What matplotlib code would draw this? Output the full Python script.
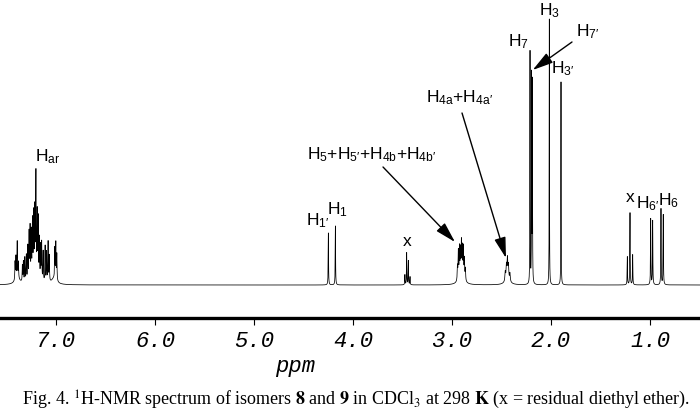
import numpy as np
import matplotlib.pyplot as plt

plt.rcParams['mathtext.fontset'] = 'custom'
plt.rcParams['mathtext.rm'] = 'Liberation Sans'
plt.rcParams['mathtext.it'] = 'Liberation Sans:italic'
plt.rcParams['mathtext.bf'] = 'Liberation Sans:bold'

# Line positions (ppm) and heights (arbitrary units)
har_ppm = [7.414, 7.405, 7.392, 7.38, 7.34, 7.33, 7.315, 7.30, 7.285, 7.272, 7.262, 7.25,
           7.238, 7.226, 7.214, 7.203, 7.19, 7.18, 7.168, 7.155, 7.145, 7.13, 7.11,
           7.095, 7.08, 7.068, 7.012, 7.002, 6.992]
har_int = [18, 22, 36, 16, 16, 20, 24, 26, 34, 46, 50, 44,
           52, 56, 60, 98, 62, 58, 40, 34, 38, 30, 36,
           30, 40, 26, 30, 36, 26]

h1_ppm = [4.249, 4.178]
h1_int = [52, 59]

ether_ch2_ppm = [3.476, 3.458, 3.441, 3.424]
ether_ch2_int = [10, 32, 24, 8]

h5_ppm = [2.945, 2.936, 2.925, 2.915, 2.905, 2.895, 2.885, 2.875, 2.865]
h5_int = [14, 28, 30, 26, 33, 28, 30, 20, 12]

h4a_ppm = [2.462, 2.45, 2.44, 2.43, 2.415]
h4a_int = [9, 14, 20, 14, 8]

h7_ppm = [2.212, 2.196, 2.188]
h7_int = [232, 206, 200]

h3_ppm = [2.017, 1.899]
h3_int = [266, 203]

ether_ch3_ppm = [1.229, 1.202, 1.175]
ether_ch3_int = [28, 72, 30]

h6_ppm = [0.993, 0.973, 0.889, 0.866]
h6_int = [66, 64, 76, 70]

# broad humps under the multiplets
hump_ppm = [7.22, 7.39, 7.02, 2.905, 2.44]
hump_int = [14, 6, 6, 8, 5]

tick_vals = [7.0, 6.0, 5.0, 4.0, 3.0, 2.0, 1.0]
tick_text = ['7.0', '6.0', '5.0', '4.0', '3.0', '2.0', '1.0']

labels = [r'H$_{\mathrm{ar}}$', r'H$_{1\prime}$', r'H$_{1}$', 'x',
          r'H$_{5}$+H$_{5\prime}$+H$_{4\mathrm{b}}$+H$_{4\mathrm{b}\prime}$',
          r'H$_{4\mathrm{a}}$+H$_{4\mathrm{a}\prime}$', r'H$_{7}$', r'H$_{3}$',
          r'H$_{7\prime}$', r'H$_{3\prime}$', 'x', r'H$_{6\prime}$', r'H$_{6}$']
label_x = [7.08, 4.36, 4.16, 3.455, 3.81, 2.92, 2.333, 2.02, 1.626, 1.879, 1.202, 1.02, 0.818]
label_y = [128, 64, 75, 44, 130, 187, 243, 274, 253, 216, 88, 81, 84]

# arrows: tail (ppm, y) -> head (ppm, y)
arrows = [((3.697, 118), (2.97, 43)),
          ((2.899, 172), (2.455, 27)),
          ((1.788, 243), (2.185, 215))]

ppm = np.linspace(0.4, 7.7, 80000)
spec = np.zeros_like(ppm)


def add_lines(shifts, heights, hw):
    global spec
    for x0, h in zip(shifts, heights):
        spec = spec + h * hw ** 2 / ((ppm - x0) ** 2 + hw ** 2)


add_lines(har_ppm, har_int, 0.0025)
add_lines(h1_ppm, h1_int, 0.002)
add_lines(ether_ch2_ppm, ether_ch2_int, 0.002)
add_lines(h5_ppm, h5_int, 0.003)
add_lines(h4a_ppm, h4a_int, 0.004)
add_lines(h7_ppm, h7_int, 0.0015)
add_lines(h3_ppm, h3_int, 0.0015)
add_lines(ether_ch3_ppm, ether_ch3_int, 0.002)
add_lines(h6_ppm, h6_int, 0.002)
add_lines(hump_ppm, hump_int, 0.03)

fig = plt.figure(figsize=(7.0, 4.19), dpi=100)
ax = fig.add_axes([0.0, 101 / 419, 1.0, 318 / 419])
ax.plot(ppm, spec, color='black', lw=0.55)

ax.set_xlim(7.566, 0.495)
ax.set_ylim(-33, 285)
for s in ['top', 'left', 'right']:
    ax.spines[s].set_visible(False)
ax.spines['bottom'].set_linewidth(2.4)
ax.set_yticks([])
ax.set_xticks(tick_vals)
ax.set_xticklabels(tick_text, family='Liberation Mono', style='italic', fontsize=16)
ax.tick_params(axis='x', direction='out', length=5, width=0.8, pad=4)

ax.text(4.586, -81, 'ppm', family='Liberation Mono', style='italic', fontsize=16,
        ha='center', va='center', clip_on=False)

for lab, lx, ly in zip(labels, label_x, label_y):
    ax.text(lx, ly, lab, family='Liberation Sans', fontsize=12.5, ha='center', va='center')

for tail, head in arrows:
    ax.annotate('', xy=head, xytext=tail,
                arrowprops=dict(arrowstyle='-|>,head_length=0.9,head_width=0.25',
                                color='black', lw=1.0, mutation_scale=14,
                                shrinkA=0, shrinkB=0))

fig.text(0.508, (419 - 400) / 419,
         r"Fig. 4. $^{1}$H-NMR spectrum of isomers $\mathbf{8}$ and $\mathbf{9}$ in CDCl$_{3}$"
         r" at 298 $\mathbf{K}$ (x = residual diethyl ether).",
         family='Liberation Serif', math_fontfamily='stix', fontsize=13,
         ha='center', va='center')

fig.savefig('out.png', dpi=100)
